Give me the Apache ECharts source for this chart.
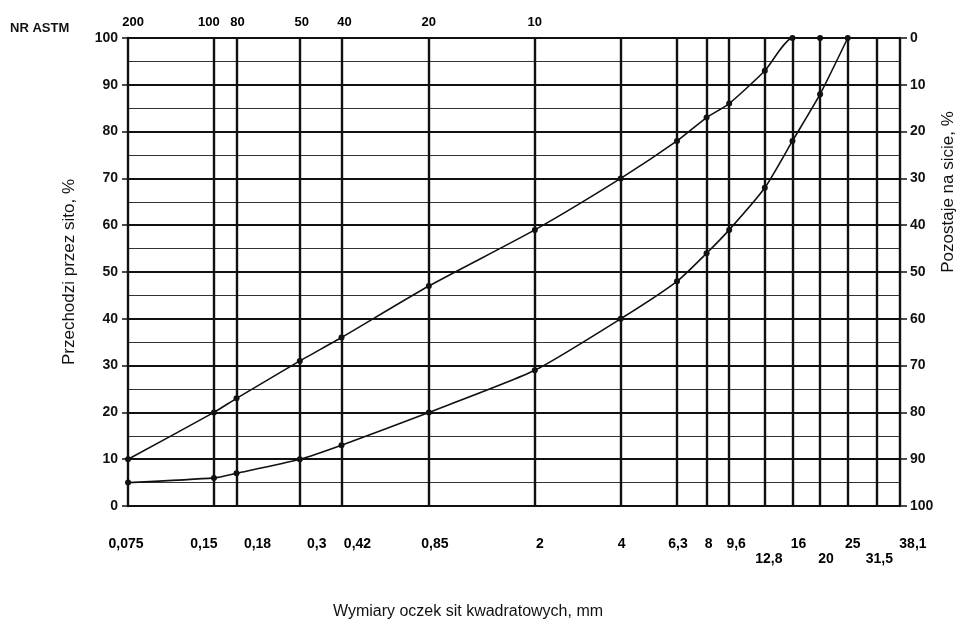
<!DOCTYPE html>
<html><head><meta charset="utf-8">
<script src="https://cdn.jsdelivr.net/npm/echarts@6/dist/echarts.min.js"></script>
<style>html,body{margin:0;padding:0;background:#fff}#c{width:967px;height:642px}</style>
</head><body><div id="c"></div>
<script>
// Sieve sizes (mm) and their printed labels
const sieveSizes = [0.075, 0.15, 0.18, 0.3, 0.42, 0.85, 2, 4, 6.3, 8, 9.6, 12.8, 16, 20, 25, 31.5, 38.1];
const sieveLabels = ['0,075', '0,15', '0,18', '0,3', '0,42', '0,85', '2', '4', '6,3', '8', '9,6', '12,8', '16', '20', '25', '31,5', '38,1'];
const secondRowLabels = ['12,8', '20', '31,5'];
// ASTM sieve numbers on top
const astmSizes = [0.075, 0.15, 0.18, 0.3, 0.42, 0.85, 2];
const astmLabels = ['200', '100', '80', '50', '40', '20', '10'];
// Upper grading limit
const upperSizes = [0.075, 0.15, 0.18, 0.3, 0.42, 0.85, 2, 4, 6.3, 8, 9.6, 12.8, 16, 20];
const upperPassing = [10, 20, 23, 31, 36, 47, 59, 70, 78, 83, 86, 93, 100, 100];
// Lower grading limit
const lowerSizes = [0.075, 0.15, 0.18, 0.3, 0.42, 0.85, 2, 4, 6.3, 8, 9.6, 12.8, 16, 20, 25];
const lowerPassing = [5, 6, 7, 10, 13, 20, 29, 40, 48, 54, 59, 68, 78, 88, 100];

// Styling: horizontal nudges of the size labels (px), as printed
const sizeLabelDx = [-2, -10, 21, 17, 16, 6, 5, 1, 1, 2, 7, 4, 6, 6, 5, 3, 13];
const astmLabelDx = [5, -5, 1, 2, 3, 0, 0];

const FONT = '"Liberation Sans", Arial, sans-serif';
const chart = echarts.init(document.getElementById('c'), null, {renderer: 'canvas'});

const xMin = sieveSizes[0] * 0.9995, xMax = sieveSizes[sieveSizes.length - 1] * 1.0005;

const labelBase = {
  type: 'scatter', silent: true, clip: false, z: 3,
  symbol: 'circle', symbolSize: 0, itemStyle: {color: '#111', opacity: 1},
  emphasis: {disabled: true}
};
const labelText = {fontFamily: FONT, fontWeight: 'bold', color: '#000', opacity: 1};

const option = {
  animation: false,
  backgroundColor: '#fff',
  grid: {left: 128, right: 67, top: 38, bottom: 136},
  xAxis: [{
    type: 'log', logBase: 10, min: xMin, max: xMax,
    axisLine: {show: true, lineStyle: {color: '#111', width: 2}},
    axisTick: {show: false}, axisLabel: {show: false},
    splitLine: {show: false}, minorSplitLine: {show: false}
  }, {
    type: 'log', logBase: 10, min: xMin, max: xMax, position: 'top',
    axisLine: {show: true, lineStyle: {color: '#111', width: 2}},
    axisTick: {show: false}, axisLabel: {show: false},
    splitLine: {show: false}
  }],
  yAxis: [{
    type: 'value', min: 0, max: 100, interval: 10, position: 'left',
    name: 'Przechodzi przez sito, %', nameLocation: 'middle', nameGap: 50, nameRotate: 90,
    nameTextStyle: {fontFamily: FONT, fontSize: 17, color: '#111'},
    axisLine: {show: true, lineStyle: {color: '#111', width: 2.4}},
    axisTick: {show: true, length: 6, lineStyle: {color: '#111', width: 1.5}},
    axisLabel: {fontFamily: FONT, fontSize: 14, fontWeight: 'bold', color: '#111', margin: 10},
    splitLine: {show: true, lineStyle: {color: '#111', width: 1.8}},
    minorTick: {show: false, splitNumber: 2},
    minorSplitLine: {show: true, lineStyle: {color: '#333', width: 1}}
  }, {
    type: 'value', min: 0, max: 100, interval: 10, position: 'right', inverse: true,
    axisLine: {show: false},
    axisTick: {show: true, length: 7, lineStyle: {color: '#111', width: 1.5}},
    axisLabel: {fontFamily: FONT, fontSize: 14, fontWeight: 'bold', color: '#111', margin: 10},
    splitLine: {show: false}
  }],
  graphic: [
    {type: 'text', left: 10, top: 22, style: {text: 'NR ASTM', font: 'bold 13px ' + FONT, fill: '#111'}},
    {type: 'text', x: 468, y: 612, style: {text: 'Wymiary oczek sit kwadratowych, mm', font: '16px ' + FONT, fill: '#111', textAlign: 'center', textVerticalAlign: 'middle'}},
    {type: 'text', x: 948, y: 192, rotation: Math.PI / 2, style: {text: 'Pozostaje na sicie, %', font: '17px ' + FONT, fill: '#111', textAlign: 'center', textVerticalAlign: 'middle'}}
  ],
  series: [
    {
      name: 'sieves', type: 'line', data: [], silent: true, z: 1,
      markLine: {
        silent: true, symbol: ['none', 'none'], animation: false,
        lineStyle: {color: '#111', width: 2.4, type: 'solid'},
        label: {show: false},
        emphasis: {disabled: true},
        data: sieveSizes.map(s => ({xAxis: s}))
      }
    },
    Object.assign({}, labelBase, {
      name: 'sizeLabels',
      data: sieveSizes.map((s, i) => ({
        value: [s, 0],
        label: Object.assign({
          show: true, formatter: sieveLabels[i], position: 'bottom',
          distance: secondRowLabels.includes(sieveLabels[i]) ? 46 : 31,
          offset: [sizeLabelDx[i], 0], fontSize: 14
        }, labelText)
      }))
    }),
    Object.assign({}, labelBase, {
      name: 'astmLabels',
      data: astmSizes.map((s, i) => ({
        value: [s, 100],
        label: Object.assign({
          show: true, formatter: astmLabels[i], position: 'top', distance: 9,
          offset: [astmLabelDx[i], 0], fontSize: 13
        }, labelText)
      }))
    }),
    {
      name: 'upper', type: 'line', z: 5, smooth: 0.2,
      data: upperSizes.map((s, i) => [s, upperPassing[i]]),
      symbol: 'circle', symbolSize: 6,
      itemStyle: {color: '#111'},
      lineStyle: {color: '#111', width: 1.6}
    },
    {
      name: 'lower', type: 'line', z: 5, smooth: 0.2,
      data: lowerSizes.map((s, i) => [s, lowerPassing[i]]),
      symbol: 'circle', symbolSize: 6,
      itemStyle: {color: '#111'},
      lineStyle: {color: '#111', width: 1.6}
    }
  ]
};
chart.setOption(option);
</script>
</body></html>
